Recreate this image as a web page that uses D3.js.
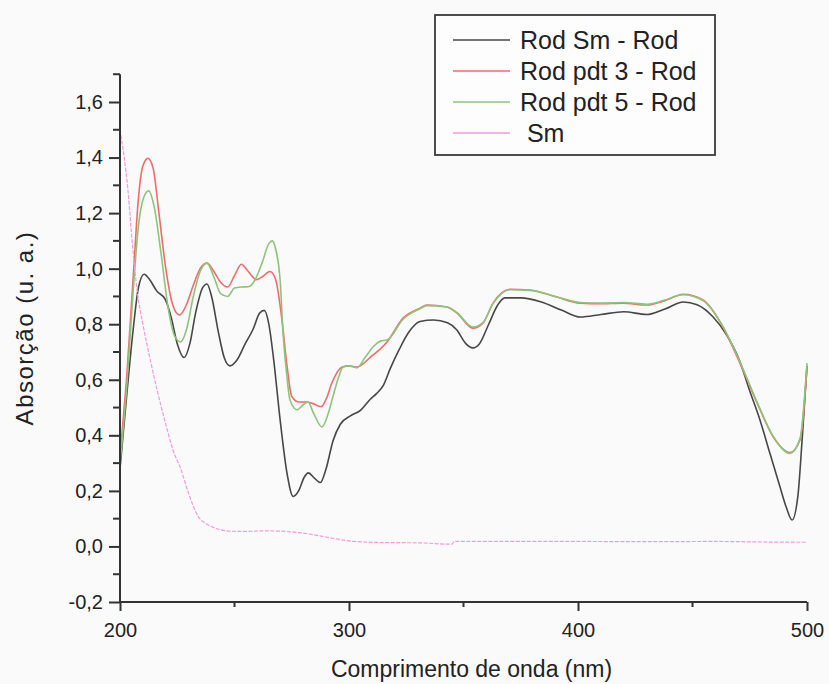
<!DOCTYPE html>
<html>
<head>
<meta charset="utf-8">
<script src="https://cdn.jsdelivr.net/npm/d3@7"></script>
<style>
  body { margin: 0; background: #fafafa; }
  text { font-family: "Liberation Sans", Arial, sans-serif; fill: #222; }
</style>
</head>
<body>
<svg id="chart" width="829" height="684"></svg>
<script>
// series: [wavelength nm, absorbance]
const rodSm = [
  [200, 0.28], [203, 0.55], [206, 0.80], [208, 0.93], [210.5, 0.98], [213, 0.96],
  [216, 0.92], [219.7, 0.89], [222.5, 0.82], [225, 0.73], [228, 0.68], [230.5, 0.73],
  [233, 0.84], [236, 0.93], [238, 0.945], [240, 0.90], [243, 0.77], [245.5, 0.68],
  [248, 0.65], [251, 0.67], [254.7, 0.73], [258, 0.78], [261, 0.84], [263, 0.85],
  [265, 0.80], [267, 0.68], [270, 0.45], [273, 0.26], [275.6, 0.18], [278, 0.20],
  [280.5, 0.25], [282.2, 0.265], [285, 0.245], [287.5, 0.23], [290, 0.28], [293, 0.38],
  [296.2, 0.44], [300.6, 0.47], [305, 0.49], [309.3, 0.53], [312, 0.55], [315, 0.58],
  [318, 0.64], [322, 0.71], [326, 0.77], [331, 0.81], [337, 0.815], [343, 0.805],
  [347, 0.78], [351, 0.73], [354, 0.715], [357, 0.73], [361, 0.80], [365, 0.87],
  [368, 0.895], [375, 0.895], [384, 0.88], [393, 0.85], [401, 0.826], [410, 0.835],
  [420, 0.845], [430, 0.835], [438, 0.855], [446, 0.88], [452, 0.87], [459, 0.826],
  [465, 0.76], [470, 0.68], [475, 0.56], [479, 0.467], [484, 0.33], [488, 0.22],
  [491, 0.14], [493.5, 0.095], [496, 0.18], [498, 0.40], [500, 0.65]
];
const rodPdt3 = [
  [200, 0.33], [203, 0.62], [206, 1.0], [208, 1.25], [210, 1.37], [212.2, 1.397],
  [214.5, 1.36], [217, 1.20], [220, 1.00], [223, 0.87], [226, 0.833], [229, 0.87],
  [232, 0.94], [235, 1.00], [238, 1.02], [241, 0.99], [244, 0.95], [247, 0.934],
  [250, 0.975], [253, 1.016], [256, 0.99], [259.5, 0.96], [262, 0.97], [265.5, 0.99],
  [268, 0.96], [270.5, 0.83], [273, 0.646], [275, 0.54], [278.3, 0.52], [281.7, 0.52],
  [284, 0.515], [287.8, 0.503], [290, 0.53], [292.6, 0.59], [297, 0.646], [300, 0.65],
  [303.5, 0.646], [309.2, 0.68], [316.6, 0.736], [323.6, 0.822], [331, 0.858],
  [334, 0.869], [342.8, 0.862], [347.2, 0.84], [354.1, 0.786], [358.5, 0.804],
  [362.9, 0.876], [370.3, 0.926], [379, 0.923], [390, 0.90], [400.9, 0.876],
  [410, 0.874], [419.7, 0.876], [430.1, 0.869], [438, 0.885], [445.9, 0.908],
  [454.6, 0.887], [463.3, 0.79], [470.7, 0.66], [478.2, 0.517], [485.2, 0.395],
  [492.6, 0.338], [497, 0.384], [500, 0.646]
];
const rodPdt5 = [
  [200, 0.30], [203, 0.58], [206, 0.95], [208, 1.15], [210.5, 1.26], [212.5, 1.28],
  [215, 1.22], [218, 1.05], [221, 0.86], [224, 0.755], [226.5, 0.736], [229, 0.78],
  [232, 0.90], [235, 0.99], [238, 1.02], [241, 0.97], [244, 0.91], [247, 0.90],
  [250, 0.93], [253, 0.934], [256, 0.935], [259, 0.96], [262, 1.02], [265, 1.09],
  [266.5, 1.10], [268, 1.07], [270, 0.95], [271.2, 0.768], [272.8, 0.62], [274.2, 0.528],
  [277.3, 0.492], [280, 0.51], [282.1, 0.52], [284.5, 0.48], [288.2, 0.43], [291, 0.48],
  [293, 0.54], [295.5, 0.61], [297.4, 0.646], [300, 0.65], [303.5, 0.643], [307, 0.68],
  [310.5, 0.718], [314, 0.74], [316.6, 0.743], [323.6, 0.818], [331, 0.856],
  [334, 0.867], [342.8, 0.862], [347.2, 0.842], [354.1, 0.79], [358.5, 0.806],
  [362.9, 0.874], [370.3, 0.924], [379, 0.922], [390, 0.90], [400.9, 0.878],
  [410, 0.876], [419.7, 0.878], [430.1, 0.872], [438, 0.887], [445.9, 0.906],
  [454.6, 0.885], [463.3, 0.792], [470.7, 0.665], [478.2, 0.52], [485.2, 0.397],
  [492.6, 0.335], [497, 0.39], [500, 0.66]
];
const sm = [
  [200, 1.50], [203.5, 1.28], [205.5, 1.08], [207.5, 0.92], [210, 0.80], [213, 0.68],
  [216, 0.57], [220, 0.44], [223, 0.35], [226.5, 0.28], [230, 0.19], [234, 0.11],
  [238, 0.08], [241, 0.068], [248, 0.055], [255, 0.054], [262, 0.056], [270, 0.055],
  [278, 0.05], [286, 0.04], [294, 0.028], [302, 0.018], [315, 0.014], [330, 0.013],
  [345, 0.008], [346, 0.018], [370, 0.018], [400, 0.018], [430, 0.017], [460, 0.018],
  [480, 0.016], [500, 0.015]
];

const seriesNames = ["Rod Sm - Rod", "Rod pdt 3 - Rod", "Rod pdt 5 - Rod", " Sm"];
const seriesColors = ["#474747", "#f26a6a", "#8cc47a", "#f09ada"];
const seriesData = [rodSm, rodPdt3, rodPdt5, sm];

const xMajor = [200, 300, 400, 500];
const xMinor = [250, 350, 450];
const yMajor = [-0.2, 0, 0.2, 0.4, 0.6, 0.8, 1.0, 1.2, 1.4, 1.6];
const yMinor = [-0.1, 0.1, 0.3, 0.5, 0.7, 0.9, 1.1, 1.3, 1.5, 1.7];

const svg = d3.select('#chart');
const x = d3.scaleLinear().domain([200, 500]).range([120, 807]);
const y = d3.scaleLinear().domain([-0.2, 1.6]).range([602, 102]);

const fmt = d => (d < 0 ? '-' : '') + Math.abs(d).toFixed(1).replace('.', ',');

// lines first, axes on top
const line = d3.line()
  .x(d => x(d[0]))
  .y(d => y(d[1]))
  .curve(d3.curveMonotoneX);

svg.append('g')
  .selectAll('path')
  .data(seriesData)
  .enter()
  .append('path')
    .attr('d', line)
    .attr('fill', 'none')
    .attr('stroke', (d, i) => seriesColors[i])
    .attr('stroke-width', (d, i) => i == 3 ? 1.2 : 1.6)
    .attr('stroke-dasharray', (d, i) => i == 3 ? '4,1.5' : null);

// y axis
const yAxis = svg.append('g').attr('transform', 'translate(120,0)');
yAxis.call(d3.axisLeft(y).tickValues(yMajor).tickFormat(fmt).tickSize(11).tickPadding(6));
yAxis.selectAll('.tick.minor')
  .data(yMinor).enter()
  .append('line')
    .attr('x1', -7).attr('x2', 0)
    .attr('y1', d => y(d)).attr('y2', d => y(d));
yAxis.select('.domain').attr('d', `M0,${y(1.7)}V602`);

// x axis
const xAxis = svg.append('g').attr('transform', 'translate(0,602)');
xAxis.call(d3.axisBottom(x).tickValues(xMajor).tickFormat(d3.format('d')).tickSize(9).tickPadding(12));
xAxis.selectAll('.tick.minor')
  .data(xMinor).enter()
  .append('line')
    .attr('y1', 0).attr('y2', 5)
    .attr('x1', d => x(d)).attr('x2', d => x(d));
xAxis.select('.domain').attr('d', 'M120,0H807');

svg.selectAll('.domain, .tick line, g > line')
  .attr('stroke', '#333')
  .attr('stroke-width', 2);
svg.selectAll('.tick text')
  .style('font-size', '20px')
  .style('font-family', '"Liberation Sans", Arial, sans-serif')
  .attr('fill', '#222');

// axis titles
svg.append('text')
  .attr('x', (x(200) + x(500)) / 2 + 8)
  .attr('y', 677)
  .attr('text-anchor', 'middle')
  .style('font-size', '23px')
  .text('Comprimento de onda (nm)');

svg.append('text')
  .attr('transform', 'translate(33,328) rotate(-90)')
  .attr('text-anchor', 'middle')
  .style('font-size', '24px')
  .style('letter-spacing', '1.5px')
  .text('Absorção (u. a.)');

// legend
const legend = svg.append('g');
legend.append('rect')
  .attr('x', 435).attr('y', 15)
  .attr('width', 280).attr('height', 140)
  .attr('fill', '#fdfdfd')
  .attr('stroke', '#3a3a3a')
  .attr('stroke-width', 1.8);

const rows = legend.selectAll('.row')
  .data(seriesNames)
  .enter()
  .append('g')
    .attr('class', 'row')
    .attr('transform', (d, i) => `translate(0,${40 + i * 31})`);
rows.append('line')
  .attr('x1', 453).attr('x2', 510)
  .attr('stroke', (d, i) => seriesColors[i])
  .attr('stroke-width', 1.4);
rows.append('text')
  .attr('x', 520)
  .attr('y', 8.5)
  .style('font-size', '25px')
  .style('white-space', 'pre')
  .attr('xml:space', 'preserve')
  .text(d => d);
</script>
</body>
</html>
